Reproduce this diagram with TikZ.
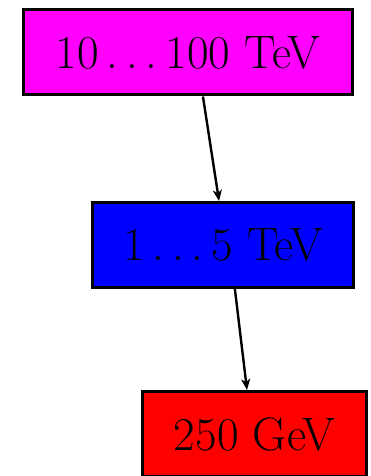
\documentclass[tikz,border=0pt]{standalone}
\usetikzlibrary{arrows.meta,calc}
\definecolor{boxmagenta}{RGB}{255,0,255}
\definecolor{boxblue}{RGB}{0,0,255}
\definecolor{boxred}{RGB}{255,0,0}
\newcommand{\ldd}{\,.\,.\,.\,}
\begin{document}
\begin{tikzpicture}[x=1pt,y=-1pt,
  levelbox/.style={draw=black,line width=3pt,inner sep=0pt,font=\fontsize{47}{52}\selectfont},
  conn/.style={line width=2.4pt,-{Stealth[length=11pt,width=9pt,inset=3pt]}}]
\useasboundingbox (0,0) rectangle (371,476);
\node[levelbox,fill=boxmagenta,minimum width=329pt,minimum height=85pt] (top) at (188,52.5) {10\ldd100 TeV};
\node[levelbox,fill=boxblue,minimum width=261pt,minimum height=85pt] (mid) at (223,245) {1\ldd5 TeV};
\node[levelbox,fill=boxred,minimum width=224pt,minimum height=85pt] (bot) at (254.5,434) {250 GeV};
\draw[conn] ($(top.south west)!0.545!(top.south east)$) -- ($(mid.north west)!0.485!(mid.north east)$);
\draw[conn] ($(mid.south west)!0.545!(mid.south east)$) -- ($(bot.north west)!0.467!(bot.north east)$);
\end{tikzpicture}
\end{document}
